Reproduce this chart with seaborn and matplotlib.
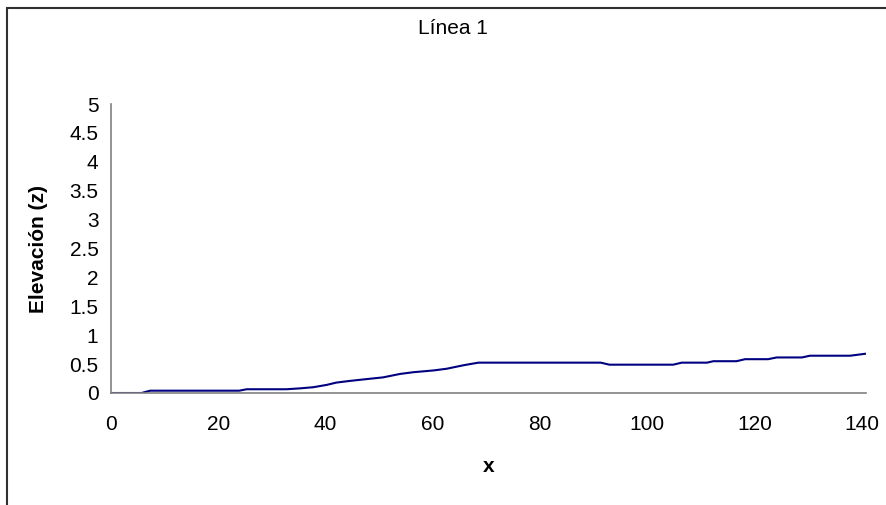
import matplotlib
matplotlib.use("Agg")
import matplotlib.pyplot as plt
import seaborn as sns
import pandas as pd
from matplotlib.patches import Rectangle

# Data
x_vals = [0, 5.7, 7.3, 23.9, 25.3, 32.7, 35.2, 37.7, 40.2, 42.0, 44.6, 47.6,
          50.7, 53.9, 56.4, 60.1, 62.6, 65.7, 68.5, 91.3, 92.9, 104.8, 106.4,
          111.1, 112.3, 116.6, 118.2, 122.5, 124.1, 128.8, 130.3, 137.8, 140.7]
z_vals = [0, 0, 0.04, 0.04, 0.065, 0.065, 0.08, 0.10, 0.14, 0.18, 0.21, 0.24,
          0.27, 0.33, 0.36, 0.39, 0.42, 0.48, 0.525, 0.525, 0.49, 0.49, 0.525,
          0.525, 0.55, 0.55, 0.585, 0.585, 0.615, 0.615, 0.645, 0.645, 0.68]
x_ticks = [0, 20, 40, 60, 80, 100, 120, 140]
y_ticks = [0, 0.5, 1, 1.5, 2, 2.5, 3, 3.5, 4, 4.5, 5]
y_tick_labels = ["0", "0.5", "1", "1.5", "2", "2.5", "3", "3.5", "4", "4.5", "5"]
title = "Línea 1"
x_label = "x"
y_label = "Elevación (z)"

sns.set_theme(style="white")
plt.rcParams['font.family'] = ['Liberation Sans', 'DejaVu Sans']

W, H = 887, 505
FS = 15
fig = plt.figure(figsize=(W / 100, H / 100), dpi=100)
fig.patch.set_facecolor("white")

# outer chart-area border (extends beyond right/bottom edges)
fig.patches.append(Rectangle((7.5 / W, -0.2), 1.5, 1.2 - 7.5 / H,
                             transform=fig.transFigure, fill=False,
                             edgecolor="#303030", linewidth=1.5, zorder=0))

ax = fig.add_axes([111 / W, 1 - 393 / H, 755 / W, 289 / H])
df = pd.DataFrame({"x": x_vals, "z": z_vals})
sns.lineplot(data=df, x="x", y="z", ax=ax, color="#000080", linewidth=1.5,
             sort=False, estimator=None)

ax.set_xlim(0, 140.75)
ax.set_ylim(0, 5)
ax.set_xticks(x_ticks)
ax.set_xticklabels([str(t) for t in x_ticks])
ax.set_yticks(y_ticks)
ax.set_yticklabels(y_tick_labels)

for s in ["top", "right"]:
    ax.spines[s].set_visible(False)
for s in ["left", "bottom"]:
    ax.spines[s].set_color("#808080")
    ax.spines[s].set_linewidth(1.2)

ax.tick_params(axis="both", which="major", direction="out", colors="#808080",
               labelcolor="black", labelsize=FS, width=1.0)
ax.tick_params(axis="x", length=5, pad=11)
ax.tick_params(axis="y", length=4, pad=5)

ax.set_xlabel(x_label, fontsize=FS, fontweight="bold", color="black")
ax.xaxis.label.set_va("center")
ax.xaxis.set_label_coords(0.5, -(467 - 393) / 289)
ax.set_ylabel(y_label, fontsize=FS, fontweight="bold", color="black")
ax.yaxis.label.set_va("center")
ax.yaxis.set_label_coords(-(111 - 39) / 755, 0.5)

fig.text(453 / W, 1 - 29 / H, title, ha="center", va="center", fontsize=FS,
         color="black")

fig.savefig("out.png", dpi=100, facecolor="white")
